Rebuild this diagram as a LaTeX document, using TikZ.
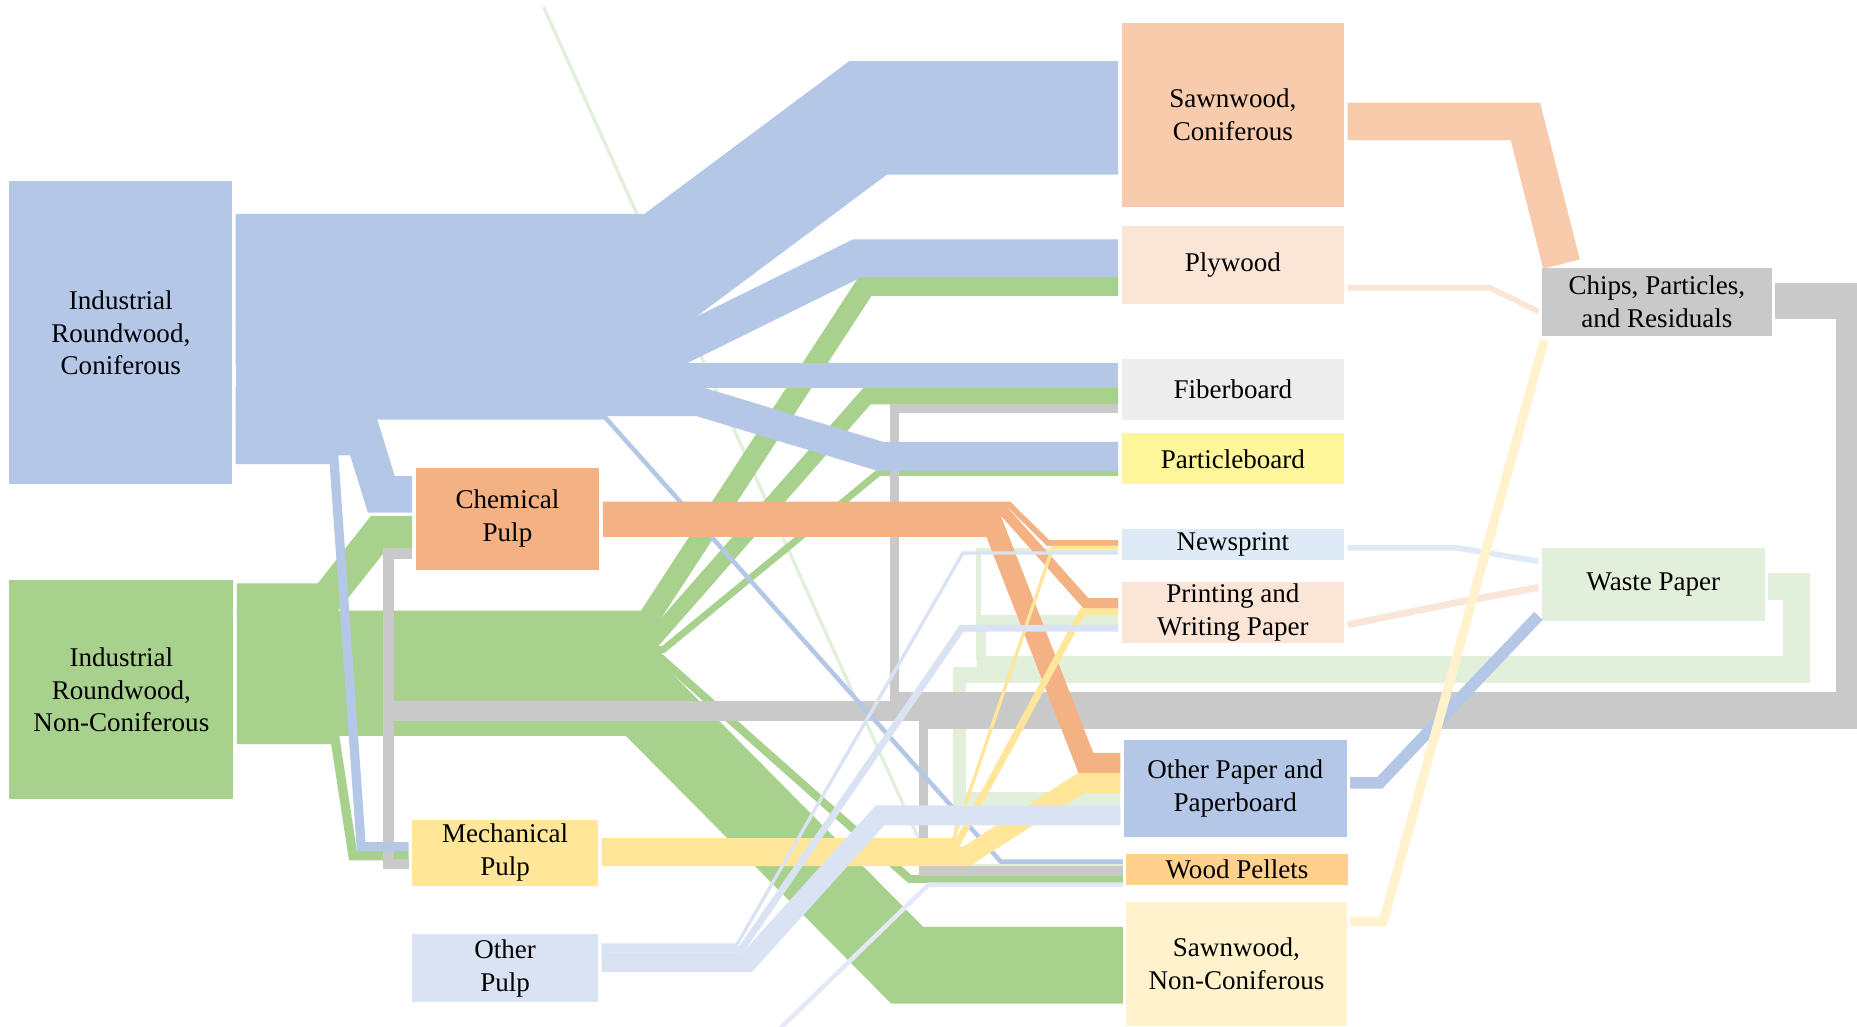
\documentclass[tikz,border=0pt]{standalone}
\usepackage{fontspec}
\setmainfont{Liberation Serif}
\definecolor{irccol}{HTML}{B4C7E7}
\definecolor{irncol}{HTML}{A9D18E}
\definecolor{chemcol}{HTML}{F4B183}
\definecolor{mechcol}{HTML}{FFE699}
\definecolor{othpcol}{HTML}{DAE3F3}
\definecolor{sawccol}{HTML}{F8CBAD}
\definecolor{plywcol}{HTML}{FBE5D6}
\definecolor{fibcol}{HTML}{EDEDED}
\definecolor{partcol}{HTML}{FFF69B}
\definecolor{newscol}{HTML}{DEEBF7}
\definecolor{prwpcol}{HTML}{FBE5D6}
\definecolor{othppcol}{HTML}{B4C7E7}
\definecolor{pellcol}{HTML}{FFD18C}
\definecolor{sawnccol}{HTML}{FFF2CC}
\definecolor{chipcol}{HTML}{C9C9C9}
\definecolor{wastcol}{HTML}{E2EFDA}
\definecolor{lavcol}{HTML}{E4E8F8}

\tikzstyle{box} = [inner sep=0pt, outer sep=0.06cm, align=center, font=\fontsize{13}{15.7}\selectfont]
\tikzset{band/.style={line width=(#1+0.8)*0.02cm, line join=miter}}

\begin{document}
\begin{tikzpicture}[x=0.02cm, y=-0.02cm]
\useasboundingbox (0,0) rectangle (1568,867);
\fill[white] (0,0) rectangle (1568,867);

\node[box, fill=irccol, minimum width=3.76cm, minimum height=5.12cm] (irc) at (102,281) {Industrial\\Roundwood,\\Coniferous};
\node[box, fill=irncol, minimum width=3.78cm, minimum height=3.70cm] (irnc) at (102.5,582.5) {Industrial\\Roundwood,\\Non-Coniferous};
\node[box, fill=chemcol, minimum width=3.10cm, minimum height=1.72cm] (chem) at (428.5,438) {Chemical\\Pulp};
\node[box, fill=mechcol, minimum width=3.14cm, minimum height=1.12cm] (mech) at (426.5,720) {Mechanical\\Pulp};
\node[box, fill=othpcol, minimum width=3.14cm, minimum height=1.14cm] (othp) at (426.5,817.5) {Other\\Pulp};
\node[box, fill=sawccol, minimum width=3.76cm, minimum height=3.12cm] (sawc) at (1041,97) {Sawnwood,\\Coniferous};
\node[box, fill=plywcol, minimum width=3.76cm, minimum height=1.32cm] (plyw) at (1041,224) {Plywood};
\node[box, fill=fibcol, minimum width=3.76cm, minimum height=1.04cm] (fib) at (1041,329) {Fiberboard};
\node[box, fill=partcol, minimum width=3.76cm, minimum height=0.86cm] (part) at (1041,387.5) {Particleboard};
\node[box, fill=newscol, minimum width=3.76cm, minimum height=0.52cm] (news) at (1041,460) {Newsprint};
\node[box, fill=prwpcol, minimum width=3.76cm, minimum height=1.04cm] (prwp) at (1041,517) {Printing and\\Writing Paper};
\node[box, fill=othppcol, minimum width=3.76cm, minimum height=1.64cm] (othpp) at (1043,666) {Other Paper and\\Paperboard};
\node[box, fill=pellcol, minimum width=3.74cm, minimum height=0.52cm] (pell) at (1044.5,734) {Wood Pellets};
\node[box, fill=sawnccol, minimum width=3.72cm, minimum height=2.08cm] (sawnc) at (1044,814) {Sawnwood,\\Non-Coniferous};
\node[box, fill=chipcol, minimum width=3.88cm, minimum height=1.16cm] (chip) at (1399,255) {Chips, Particles,\\and Residuals};
\node[box, fill=wastcol, minimum width=3.76cm, minimum height=1.22cm] (wastp) at (1396,493.5) {Waste Paper};

\coordinate (topend) at (459,6);
\coordinate (botend) at (657,870);

\draw[band=2, wastcol] (topend) -- (786,731) -- (pell.west |- 0,731);

\draw[band=27, irncol] (irnc.east |- 0,506.5) -- (275,506.5) -- (320,449.5) -- (chem.west |- 0,449.5);
\draw[band=17, irncol] (irnc.east |- 0,524.5) -- (546,524.5) -- (731,241) -- (plyw.west |- 0,241);
\draw[band=13, irncol] (irnc.east |- 0,539.5) -- (552,539.5) -- (732,334.5) -- (fib.west |- 0,334.5);
\draw[band=5, irncol] (irnc.east |- 0,548.5) -- (560,548.5) -- (742,399) -- (part.west |- 0,399);
\draw[band=6, irncol] (irnc.east |- 0,554) -- (556,554) -- (768,742) -- (pell.west |- 0,742);
\draw[band=64, irncol] (irnc.east |- 0,589) -- (542,589) -- (766,815) -- (sawnc.west |- 0,815);
\draw[band=7, irncol] (irnc.east |- 0,624.5) -- (283,624.5) -- (298,722.5) -- (mech.west |- 0,722.5);

\draw[band=3, lavcol] (botend) -- (784,747) -- (pell.west |- 0,747);

\draw[band=3, wastcol] (wastp.east |- 0,505) -- (1507.5,505) -- (1507.5,555.5) -- (826,555.5) -- (826,464.5) -- (news.west |- 0,464.5);
\draw[band=7, wastcol] (wastp.east |- 0,500) -- (1512.5,500) -- (1512.5,560.5) -- (829,560.5) -- (829,523.5) -- (prwp.west |- 0,523.5);
\draw[band=10, wastcol] (wastp.east |- 0,491.5) -- (1521,491.5) -- (1521,569) -- (810,569) -- (810,674.5) -- (othpp.west |- 0,674.5);
\draw[band=2, wastcol] (wastp.east |- 0,485.5) -- (1527,485.5) -- (1527,575) -- (807,575) -- (807,731) -- (pell.west |- 0,731);

\draw[band=7, chipcol] (chip.east |- 0,265.5) -- (1554.5,265.5) -- (1554.5,588.5) -- (755,588.5) -- (755,345) -- (fib.west |- 0,345);
\draw[band=8, chipcol] (chip.east |- 0,258) -- (1562,258) -- (1562,596) -- (328,596) -- (328,467.5) -- (chem.west |- 0,467.5);
\draw[band=8, chipcol] (chip.east |- 0,250) -- (1570,250) -- (1570,604) -- (328,604) -- (328,729.5) -- (mech.west |- 0,729.5);
\draw[band=7, chipcol] (chip.east |- 0,242.5) -- (1577.5,242.5) -- (1577.5,611.5) -- (780,611.5) -- (780,735.5) -- (pell.west |- 0,735.5);

\draw[band=95, irccol] (irc.east |- 0,228.5) -- (560,228.5) -- (733,99.5) -- (sawc.west |- 0,99.5);
\draw[band=31, irccol] (irc.east |- 0,291.5) -- (575,291.5) -- (724,218) -- (plyw.west |- 0,218);
\draw[band=20, irccol] (irc.east |- 0,317) -- (fib.west |- 0,317);
\draw[band=24, irccol] (irc.east |- 0,339) -- (590,339) -- (744,385.5) -- (part.west |- 0,385.5);
\draw[band=3, irccol] (irc.east |- 0,352.5) -- (511,352.5) -- (845,727.5) -- (pell.west |- 0,727.5);
\draw[band=30, irccol] (irc.east |- 0,369) -- (307,369) -- (322,417.5) -- (chem.west |- 0,417.5);
\draw[band=7, irccol] (irc.east |- 0,388) -- (282,388) -- (305,715) -- (mech.west |- 0,715);

\draw[band=4, chemcol] (chem.east |- 0,426) -- (852,426) -- (885,458.5) -- (news.west |- 0,458.5);
\draw[band=8, chemcol] (chem.east |- 0,432) -- (848,432) -- (917,509.5) -- (prwp.west |- 0,509.5);
\draw[band=17, chemcol] (chem.east |- 0,444.5) -- (839,444.5) -- (917,644.5) -- (othpp.west |- 0,644.5);

\draw[band=2, mechcol] (mech.east |- 0,709) -- (805,709) -- (889,462) -- (news.west |- 0,462);
\draw[band=5, mechcol] (mech.east |- 0,712.5) -- (808,712.5) -- (914,516.5) -- (prwp.west |- 0,516.5);
\draw[band=16, mechcol] (mech.east |- 0,723) -- (816,723) -- (913,661) -- (othpp.west |- 0,661);

\draw[band=2, othpcol] (othp.east |- 0,798) -- (622,798) -- (813,467) -- (news.west |- 0,467);
\draw[band=5, othpcol] (othp.east |- 0,801.5) -- (626,801.5) -- (812,530.5) -- (prwp.west |- 0,530.5);
\draw[band=16, othpcol] (othp.east |- 0,812.5) -- (631,812.5) -- (743,688.5) -- (othpp.west |- 0,688.5);

\draw[band=4, newscol] (news.east |- 0,462.5) -- (1230,462.5) -- (wastp.west |- 0,474);
\draw[band=5, prwpcol] (prwp.east |- 0,527.5) -- (1239,507) -- (wastp.west |- 0,496);
\draw[band=9, othppcol] (othpp.east |- 0,661) -- (1165,661) -- (wastp.west |- 0,520);
\draw[band=31, sawccol] (sawc.east |- 0,102.5) -- (1288,102.5) -- (1318.5,0 |- chip.north);
\draw[band=4, plywcol] (plyw.east |- 0,243) -- (1258,243) -- (chip.west |- 0,263);
\draw[band=7, sawnccol] (sawnc.east |- 0,778) -- (1168,778) -- (1304,0 |- chip.south);
\end{tikzpicture}
\end{document}
